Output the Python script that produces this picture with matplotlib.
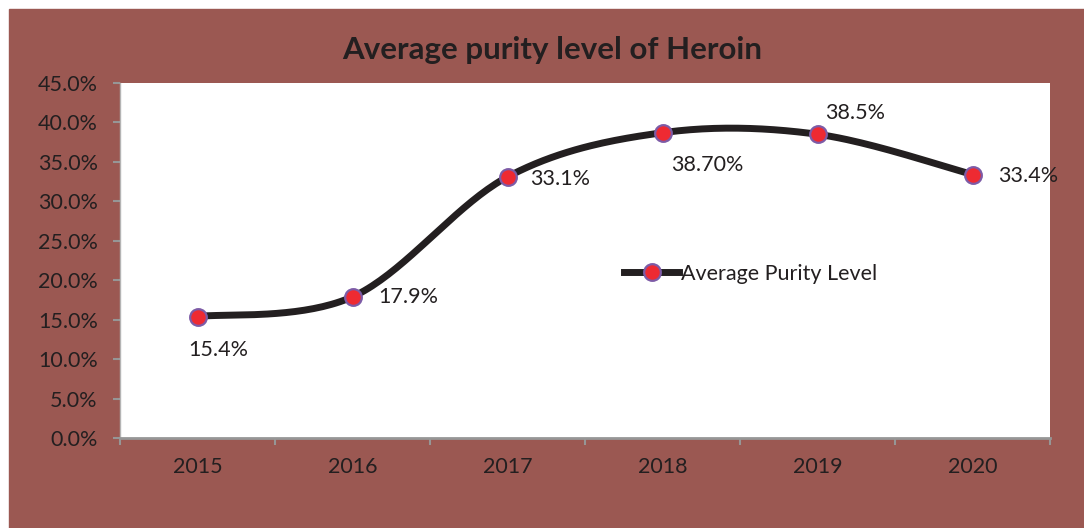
import matplotlib.pyplot as plt
import numpy as np
from matplotlib.patches import Rectangle
from matplotlib.ticker import PercentFormatter

years = ['2015', '2016', '2017', '2018', '2019', '2020']
purity = [15.4, 17.9, 33.1, 38.7, 38.5, 33.4]
labels = ['15.4%', '17.9%', '33.1%', '38.70%', '38.5%', '33.4%']

plt.rcParams['font.family'] = ['Lato', 'DejaVu Sans']

bg = '#9b5852'
txt = '#231f20'


def smooth(xs, ys, n=40):
    # excel-like smoothed line: bezier segments with catmull-rom tangents
    xs = np.asarray(xs, float)
    ys = np.asarray(ys, float)
    px = np.concatenate([[xs[0]], xs, [xs[-1]]])
    py = np.concatenate([[ys[0]], ys, [ys[-1]]])
    outx, outy = [], []
    t = np.linspace(0, 1, n)
    for i in range(1, len(px) - 2):
        p0x, p0y = px[i], py[i]
        p3x, p3y = px[i + 1], py[i + 1]
        c1x = p0x + (px[i + 1] - px[i - 1]) / 6
        c1y = p0y + (py[i + 1] - py[i - 1]) / 6
        c2x = p3x - (px[i + 2] - px[i]) / 6
        c2y = p3y - (py[i + 2] - py[i]) / 6
        bx = (1 - t) ** 3 * p0x + 3 * (1 - t) ** 2 * t * c1x + 3 * (1 - t) * t ** 2 * c2x + t ** 3 * p3x
        by = (1 - t) ** 3 * p0y + 3 * (1 - t) ** 2 * t * c1y + 3 * (1 - t) * t ** 2 * c2y + t ** 3 * p3y
        outx.extend(bx)
        outy.extend(by)
    return np.array(outx), np.array(outy)


fig = plt.figure(figsize=(10.84, 5.28), dpi=100, facecolor='white')
fig.patches.append(Rectangle((9 / 1084, 0), 1 - 9 / 1084, 519 / 528,
                             transform=fig.transFigure, color=bg, zorder=-5))

ax = fig.add_axes([120 / 1084, 1 - 438 / 528, 930 / 1084, 355 / 528])
ax.set_facecolor('white')

x = np.arange(len(years))
sx, sy = smooth(x, purity)
ax.plot(sx, sy, color='#231f20', lw=5, solid_capstyle='round', zorder=2)
ax.plot(x, purity, ls='none', marker='o', ms=12, mfc='#ee2a32',
        mec='#7d5ba6', mew=1.6, zorder=3)
# legend handle
ax.plot([], [], color='#231f20', lw=5, marker='o', ms=12, mfc='#ee2a32',
        mec='#7d5ba6', mew=1.6, label='Average Purity Level')

offsets = [(15, -24), (40, 0), (38, -1.5), (32, -23), (27, 15), (40, -1)]
for xi, yi, lab, off in zip(x, purity, labels, offsets):
    ax.annotate(lab, (xi, yi), xytext=off, textcoords='offset points',
                ha='center', va='center', fontsize=15.5, color=txt)

ax.set_xlim(-0.5, 5.5)
ax.set_ylim(0, 45)
ax.set_yticks(np.arange(0, 46, 5))
ax.yaxis.set_major_formatter(PercentFormatter(decimals=1))
ax.set_xticks(x)
ax.set_xticklabels(years)
ax.set_xticks(np.arange(-0.5, 6, 1), minor=True)
ax.tick_params(axis='x', which='major', length=0, pad=14, labelsize=15.5, labelcolor=txt)
ax.tick_params(axis='x', which='minor', length=5, width=1.5, color='#969696')
ax.tick_params(axis='y', length=5, width=1.5, color='#969696', labelsize=15.5,
               labelcolor=txt, pad=11)

for s in ['top', 'right']:
    ax.spines[s].set_visible(False)
ax.spines['bottom'].set_color('#969696')
ax.spines['bottom'].set_linewidth(2)
ax.spines['left'].set_color('#b4b4b4')
ax.spines['left'].set_linewidth(1)

ax.legend(loc='center left', bbox_to_anchor=(0.542, 0.462), frameon=False,
          fontsize=15.5, handlelength=2.55, handletextpad=0.1, labelcolor=txt,
          borderpad=0, borderaxespad=0)

fig.text(552 / 1084, 1 - 50 / 528, 'Average purity level of Heroin',
         ha='center', va='center', fontsize=22.5, fontweight='bold', color=txt)

fig.savefig('out.png', dpi=100, facecolor=fig.get_facecolor())
